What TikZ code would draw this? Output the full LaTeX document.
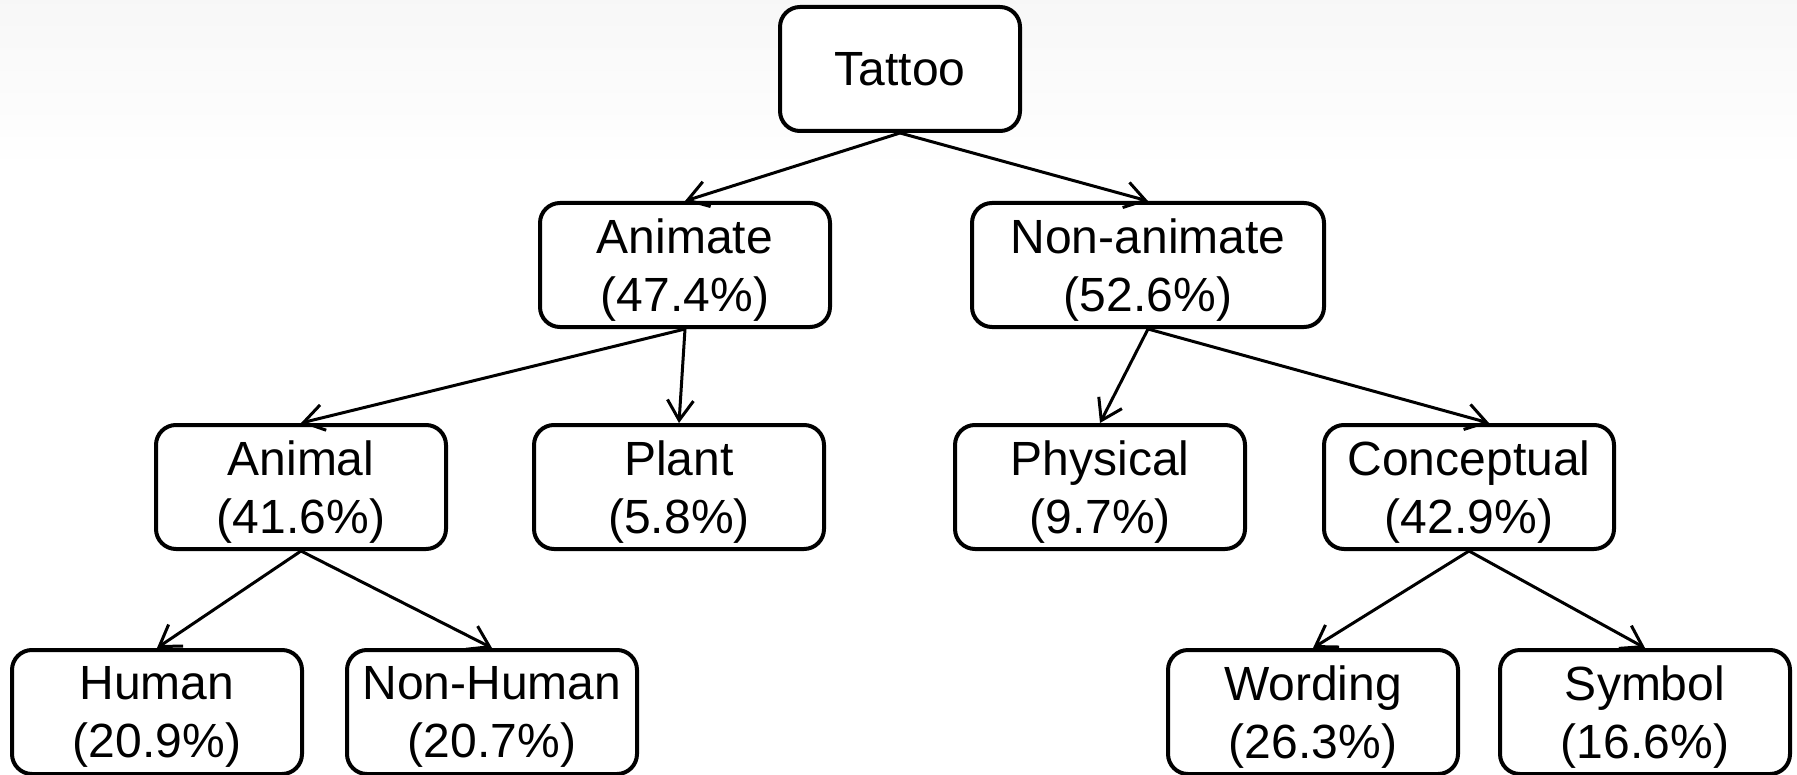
\documentclass[tikz,border=0pt]{standalone}
\usepackage{fontspec}
\setmainfont{Liberation Sans}
\usetikzlibrary{arrows.meta, positioning}
\tikzstyle{categoria} = [draw=black, fill=white, line width=2pt, rectangle, rounded corners=10pt, minimum width=145pt, minimum height=62pt, inner sep=0pt, text depth=-2pt, align=center, font=\fontsize{24}{29}\selectfont]
\tikzstyle{flecha} = [line width=1.5pt, -{Straight Barb[length=10pt, width=13pt, line width=1.5pt]}]

\begin{document}
\begin{tikzpicture}[x=0.5pt, y=-0.5pt]
	\useasboundingbox (0,0) rectangle (1797,775);
	\shade[top color=black!3, bottom color=white] (0,0) rectangle (1797,170);
	% raiz
	\node[categoria, minimum width=120pt] (tattoo) at (900,69) {Tattoo};
	% segundo nivel
	\node[categoria] (animate) at (685,265) {Animate\\(47.4\%)};
	\node[categoria, minimum width=176pt] (nonanimate) at (1148,265) {Non-animate\\(52.6\%)};
	% tercer nivel
	\node[categoria] (animal) at (301,487) {Animal\\(41.6\%)};
	\node[categoria] (plant) at (679,487) {Plant\\(5.8\%)};
	\node[categoria] (physical) at (1100,487) {Physical\\(9.7\%)};
	\node[categoria] (conceptual) at (1469,487) {Conceptual\\(42.9\%)};
	% cuarto nivel
	\node[categoria] (human) at (157,712) {Human\\(20.9\%)};
	\node[categoria] (nonhuman) at (492,712) {Non-Human\\(20.7\%)};
	\node[categoria] (wording) at (1313,712) {Wording\\(26.3\%)};
	\node[categoria] (symbol) at (1645,712) {Symbol\\(16.6\%)};
	% flechas
	\draw[flecha] (tattoo.south) -- (animate.north);
	\draw[flecha] (tattoo.south) -- (nonanimate.north);
	\draw[flecha] (animate.south) -- (animal.north);
	\draw[flecha] (animate.south) -- (plant.north);
	\draw[flecha] (nonanimate.south) -- (physical.north);
	\draw[flecha] (nonanimate.south) -- ([xshift=10pt]conceptual.north);
	\draw[flecha] (animal.south) -- (human.north);
	\draw[flecha] (animal.south) -- (nonhuman.north);
	\draw[flecha] (conceptual.south) -- (wording.north);
	\draw[flecha] (conceptual.south) -- (symbol.north);
\end{tikzpicture}
\end{document}
